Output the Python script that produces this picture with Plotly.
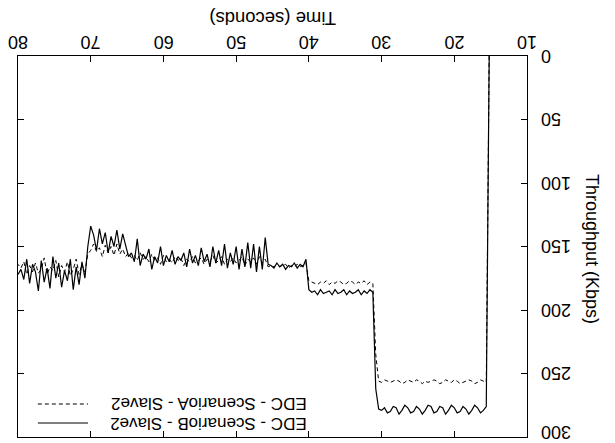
import plotly.graph_objects as go

# Sample times (seconds): first sample at 15.2 s, one sample every 0.4 s
t_start = 15.2
t_step = 0.4

# EDC - ScenarioB - Slave2 (solid), Kbps
scenarioB = [
    0,
    276, 279, 281, 277, 275, 279, 282, 278, 276, 280,
    281, 277, 275, 279, 282, 277, 276, 280, 281, 276,
    275, 279, 282, 278, 276, 280, 281, 277, 275, 279,
    282, 277, 276, 280, 281, 277, 279, 278,
    262,
    186, 184, 187, 185, 188, 184, 186, 187, 185, 188,
    184, 186, 187, 184, 188, 185, 186, 187, 184, 188,
    185, 186, 184,
    160, 166, 164, 167, 163, 166, 165, 168, 164, 166,
    163, 167, 165, 164,
    143, 168, 150, 170, 148, 167, 147, 166, 152, 168,
    150, 164, 155, 167, 148, 165, 153, 163, 150, 166,
    156, 162, 151, 165, 157, 163, 152, 166, 155, 161,
    158, 164, 153, 162, 157, 165, 150, 163, 158, 168,
    152, 160, 156, 165, 144, 162, 155, 158, 150,
    140, 152, 137, 150, 142, 155, 139, 148, 136, 153,
    141, 134, 150,
    175, 162, 180, 166, 184, 160, 177, 169, 182, 163,
    175, 158, 183, 167, 178, 161, 185, 170, 164, 179,
    160, 176, 168, 172,
]

# EDC - ScenarioA - Slave2 (dashed), Kbps
scenarioA = [
    0,
    257, 256, 255, 257, 258, 256, 255, 256, 257, 258,
    256, 255, 257, 256, 255, 257, 258, 256, 255, 256,
    257, 256, 258, 256, 255, 257, 256, 255, 257, 258,
    256, 255, 256, 257, 256, 255, 257, 256,
    235,
    179, 178, 180, 177, 179, 178, 180, 178, 177, 179,
    180, 178, 177, 179, 178, 180, 177, 179, 178, 180,
    179, 178, 177,
    163, 165, 166, 164, 166, 165, 167, 164, 165, 166,
    164, 166, 165, 166,
    160, 163, 158, 164, 159, 162, 160, 165, 158, 161,
    163, 159, 162, 160, 164, 158, 161, 163, 157, 162,
    160, 164, 159, 161, 163, 158, 162, 160, 165, 159,
    161, 158, 163, 160, 162, 157, 164, 159, 161, 156,
    162, 158, 160, 155, 161, 157, 159, 155, 158,
    152, 156, 148, 157, 150, 155, 149, 158, 151, 154,
    148, 153, 156,
    170, 164, 172, 160, 168, 173, 162, 170, 165, 174,
    161, 169, 166, 172, 159, 168, 171, 163, 170, 165,
    172, 162, 167, 164,
]

time = [round(t_start + t_step * i, 1) for i in range(len(scenarioB))]

x_ticks = [10, 20, 30, 40, 50, 60, 70, 80]
y_ticks = [0, 50, 100, 150, 200, 250, 300]
x_title = "Time (seconds)"
y_title = "Throughput (Kbps)"
label_B = "EDC - ScenarioB - Slave2"
label_A = "EDC - ScenarioA - Slave2"

FONT = "Liberation Sans, Arial, sans-serif"

fig = go.Figure()
fig.add_trace(go.Scatter(x=time, y=scenarioA, mode="lines", name=label_A,
                         line=dict(color="black", width=1, dash="4px,3px")))
fig.add_trace(go.Scatter(x=time, y=scenarioB, mode="lines", name=label_B,
                         line=dict(color="black", width=1.2)))

axis_common = dict(showline=True, linecolor="black", linewidth=1, mirror="ticks",
                   ticks="inside", ticklen=6, tickcolor="black", showgrid=False,
                   zeroline=False, showticklabels=False, automargin=False)

fig.update_xaxes(side="top", range=[80, 10], tickmode="array", tickvals=x_ticks,
                 **axis_common)
fig.update_yaxes(side="right", range=[300, 0], tickmode="array", tickvals=y_ticks,
                 **axis_common)

tick_font = dict(family=FONT, size=18, color="black")
annots = []
# upside-down tick labels, placed at the tick values through the axes
for v in x_ticks:
    annots.append(dict(text=str(v), x=v, xref="x", y=1.037, yref="paper",
                       showarrow=False, textangle=180, xanchor="center",
                       yanchor="middle", font=tick_font))
for v in y_ticks:
    annots.append(dict(text=str(v), x=1.0236, xref="paper", y=v, yref="y",
                       showarrow=False, textangle=180, xanchor="left",
                       yanchor="middle", font=tick_font,
                       yshift=5 if v == y_ticks[-1] else 0))

annots += [
    dict(text=x_title, x=0.501, y=1.10, xref="paper", yref="paper", showarrow=False,
         textangle=180, xanchor="center", yanchor="middle",
         font=dict(family=FONT, size=18.5, color="black")),
    dict(text=y_title, x=1.128, y=0.493, xref="paper", yref="paper", showarrow=False,
         textangle=90, xanchor="center", yanchor="middle",
         font=dict(family=FONT, size=18, color="black")),
    dict(text=label_A, x=0.374, y=0.086, xref="paper", yref="paper", showarrow=False,
         textangle=180, xanchor="center", yanchor="middle",
         font=dict(family=FONT, size=17, color="black")),
    dict(text=label_B, x=0.374, y=0.037, xref="paper", yref="paper", showarrow=False,
         textangle=180, xanchor="center", yanchor="middle",
         font=dict(family=FONT, size=17, color="black")),
]

shapes = [
    dict(type="line", xref="paper", yref="paper", x0=0.039, x1=0.1375, y0=0.0866, y1=0.0866,
         line=dict(color="black", width=1, dash="4px,3px")),
    dict(type="line", xref="paper", yref="paper", x0=0.039, x1=0.1375, y0=0.0367, y1=0.0367,
         line=dict(color="black", width=1.2)),
]

fig.update_layout(width=615, height=443, margin=dict(l=18, r=88, t=56, b=6, autoexpand=False),
                  plot_bgcolor="white", paper_bgcolor="white", showlegend=False,
                  annotations=annots, shapes=shapes)

fig.write_html("out.html")
